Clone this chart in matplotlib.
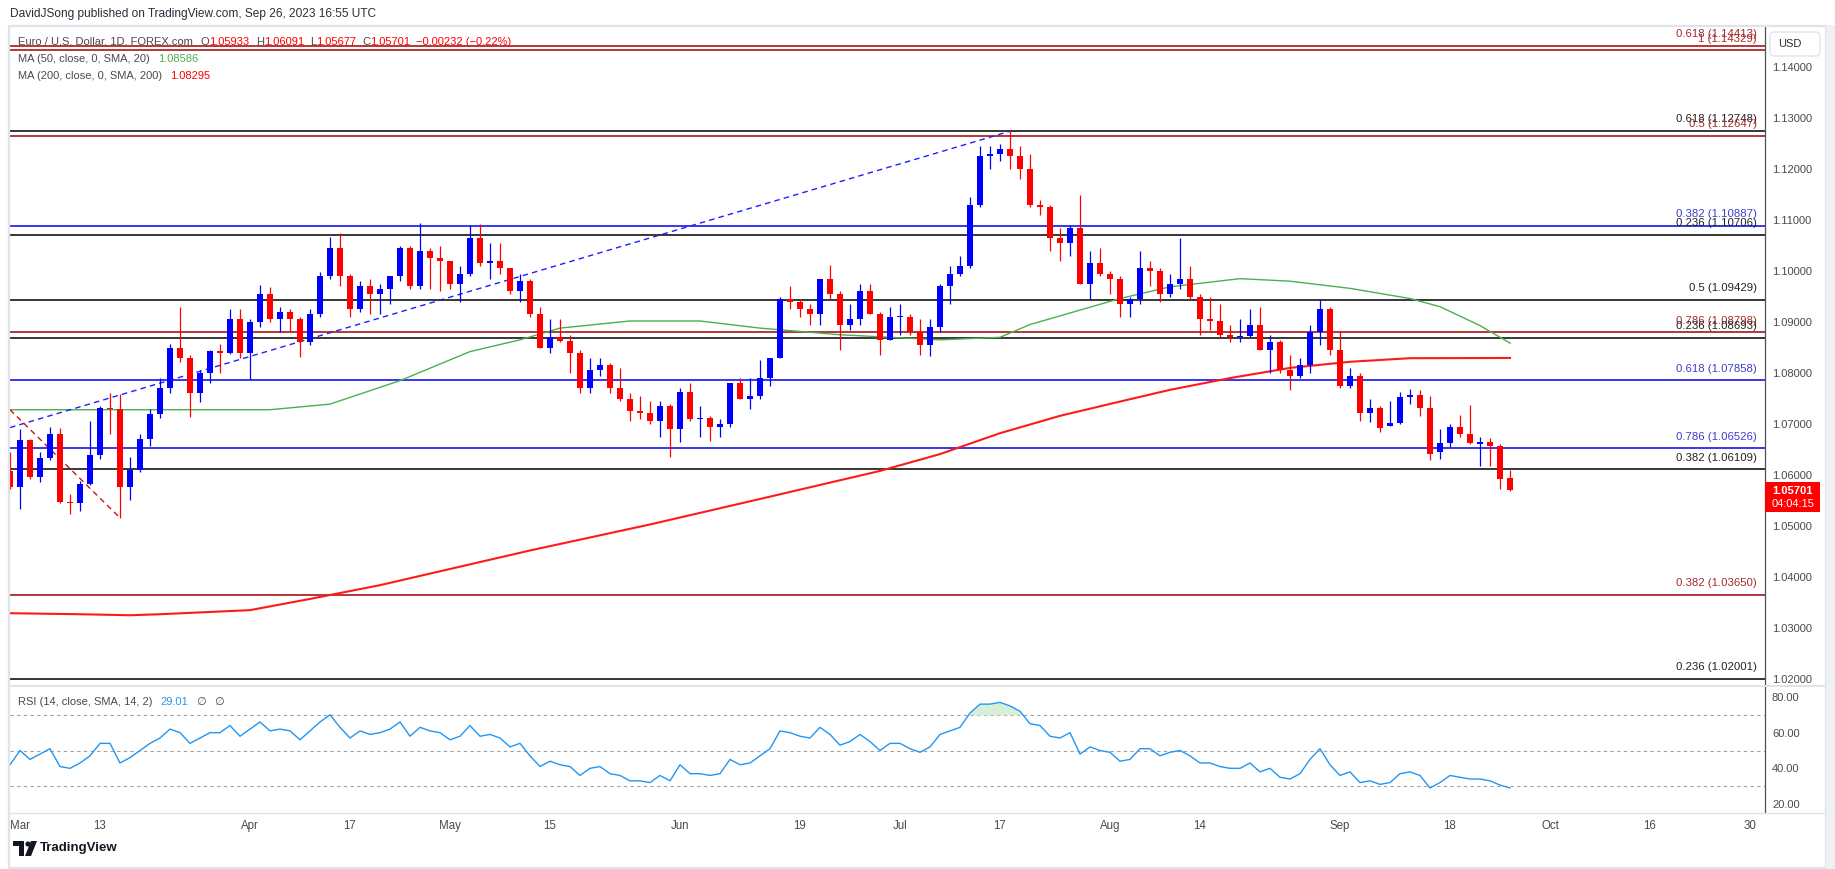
import matplotlib
matplotlib.use( 'Agg' )
import matplotlib.pyplot as plt
from matplotlib.patches import Rectangle , FancyBboxPatch , Polygon , Circle
import numpy as np
import pandas as pd

plt.rcParams['font.family'] = ['Liberation Sans', 'DejaVu Sans']

W , H = 1835 , 869

##  daily bars, Feb 28 .. Sep 26 2023 (weekdays)
dates = pd.bdate_range( '2023-02-28' , '2023-09-26' )

opens = [1.0608,
 1.0576, 1.0668, 1.0597, 1.0634, 1.0681, 1.0548, 1.0545, 1.0582, 1.0640, 1.0731, 1.0730, 1.0577, 1.0610, 1.0670,
 1.0720, 1.0770, 1.0850, 1.0830, 1.0760, 1.0800, 1.0843, 1.0840, 1.0905,
 1.0840, 1.0900, 1.0955, 1.0905, 1.0920, 1.0905, 1.0860, 1.0915, 1.0990, 1.1045, 1.0990, 1.0925, 1.0970, 1.0955,
 1.0965, 1.0990, 1.1045, 1.0970, 1.1040, 1.1025,
 1.1020, 1.0975, 1.0995, 1.1065, 1.1015, 1.1020, 1.1005, 1.0960, 1.0980, 1.0915, 1.0850, 1.0870, 1.0862, 1.0840,
 1.0770, 1.0805, 1.0815, 1.0770, 1.0750, 1.0725, 1.0722, 1.0705, 1.0735,
 1.0690, 1.0762, 1.0710, 1.0712, 1.0695, 1.0700, 1.0780, 1.0750, 1.0755, 1.0790, 1.0830, 1.0945, 1.0940, 1.0925,
 1.0915, 1.0985, 1.0955, 1.0895, 1.0905, 1.0960, 1.0915, 1.0865,
 1.0910, 1.0910, 1.0880, 1.0855, 1.0890, 1.0970, 1.0995, 1.1010, 1.1130, 1.1225, 1.1230, 1.1240, 1.1225, 1.1200,
 1.1130, 1.1125, 1.1065, 1.1055, 1.1085, 1.0975, 1.1015,
 1.0995, 1.0985, 1.0935, 1.0945, 1.1005, 1.1000, 1.0955, 1.0975, 1.0985, 1.0950, 1.0905, 1.0902, 1.0875, 1.0870,
 1.0872, 1.0895, 1.0845, 1.0860, 1.0805, 1.0795, 1.0815, 1.0880, 1.0925,
 1.0845, 1.0775, 1.0795, 1.0722, 1.0731, 1.0697, 1.0701, 1.0752, 1.0757, 1.0732, 1.0645, 1.0662, 1.0694, 1.0680,
 1.0661, 1.0664, 1.0656, 1.05933]

highs = [1.0646,
 1.0691, 1.0671, 1.0645, 1.0694, 1.0693, 1.0563, 1.0588, 1.0705, 1.0736, 1.0760, 1.0759, 1.0635, 1.0680, 1.0730,
 1.0790, 1.0857, 1.0930, 1.0835, 1.0805, 1.0845, 1.0857, 1.0925, 1.0925,
 1.0905, 1.0973, 1.0968, 1.0930, 1.0925, 1.0910, 1.0925, 1.0999, 1.1066, 1.1075, 1.0995, 1.0980, 1.0985, 1.0974,
 1.0990, 1.1050, 1.1050, 1.1095, 1.1045, 1.1050,
 1.1020, 1.1010, 1.1090, 1.1092, 1.1055, 1.1055, 1.1005, 1.0995, 1.0985, 1.0930, 1.0905, 1.0905, 1.0875, 1.0845,
 1.0830, 1.0830, 1.0820, 1.0810, 1.0760, 1.0755, 1.0745, 1.0745, 1.0740,
 1.0770, 1.0780, 1.0735, 1.0715, 1.0710, 1.0780, 1.0790, 1.0790, 1.0825, 1.0830, 1.0950, 1.0970, 1.0945, 1.0935,
 1.0985, 1.1012, 1.0960, 1.0935, 1.0975, 1.0975, 1.0920, 1.0930,
 1.0935, 1.0915, 1.0905, 1.0905, 1.0975, 1.1010, 1.1030, 1.1145, 1.1245, 1.1245, 1.1250, 1.1276, 1.1245, 1.1230,
 1.1140, 1.1130, 1.1085, 1.1090, 1.1150, 1.1040, 1.1045,
 1.1000, 1.0990, 1.0950, 1.1040, 1.1020, 1.1005, 1.0995, 1.1065, 1.1010, 1.0955, 1.0950, 1.0935, 1.0895, 1.0905,
 1.0925, 1.0930, 1.0875, 1.0865, 1.0835, 1.0830, 1.0895, 1.0945, 1.0930,
 1.0882, 1.0810, 1.0800, 1.0750, 1.0735, 1.0746, 1.0762, 1.0769, 1.0766, 1.0755, 1.0690, 1.0700, 1.0718, 1.0737,
 1.0675, 1.0673, 1.0661, 1.06091]

lows = [1.0573,
 1.0533, 1.0592, 1.0586, 1.0630, 1.0545, 1.0524, 1.0530, 1.0580, 1.0632, 1.0680, 1.0516, 1.0551, 1.0606, 1.0656,
 1.0712, 1.0760, 1.0822, 1.0713, 1.0744, 1.0780, 1.0800, 1.0838, 1.0830,
 1.0788, 1.0890, 1.0900, 1.0880, 1.0880, 1.0832, 1.0855, 1.0910, 1.0985, 1.0970, 1.0910, 1.0920, 1.0915, 1.0915,
 1.0935, 1.0980, 1.0965, 1.0965, 1.0965, 1.0960,
 1.0965, 1.0940, 1.0990, 1.1010, 1.0985, 1.0995, 1.0955, 1.0940, 1.0910, 1.0850, 1.0840, 1.0860, 1.0800, 1.0760,
 1.0760, 1.0795, 1.0760, 1.0745, 1.0705, 1.0710, 1.0700, 1.0675, 1.0635,
 1.0665, 1.0705, 1.0675, 1.0667, 1.0675, 1.0695, 1.0750, 1.0730, 1.0750, 1.0775, 1.0830, 1.0925, 1.0910, 1.0895,
 1.0895, 1.0945, 1.0845, 1.0885, 1.0895, 1.0915, 1.0835, 1.0865,
 1.0875, 1.0875, 1.0835, 1.0833, 1.0880, 1.0935, 1.0990, 1.1005, 1.1125, 1.1200, 1.1215, 1.1200, 1.1180, 1.1125,
 1.1110, 1.1040, 1.1020, 1.1030, 1.0975, 1.0945, 1.0990,
 1.0955, 1.0910, 1.0910, 1.0935, 1.0970, 1.0940, 1.0950, 1.0965, 1.0945, 1.0875, 1.0885, 1.0870, 1.0860, 1.0860,
 1.0870, 1.0845, 1.0800, 1.0800, 1.0766, 1.0790, 1.0800, 1.0855, 1.0835,
 1.0771, 1.0770, 1.0705, 1.0703, 1.0685, 1.0697, 1.0700, 1.0740, 1.0716, 1.0630, 1.0632, 1.0655, 1.0675, 1.0660,
 1.0617, 1.0617, 1.0573, 1.05677]

closes = [1.0576,
 1.0668, 1.0597, 1.0634, 1.0681, 1.0548, 1.0545, 1.0582, 1.0640, 1.0731, 1.0730, 1.0577, 1.0610, 1.0670, 1.0720,
 1.0770, 1.0850, 1.0830, 1.0760, 1.0800, 1.0843, 1.0840, 1.0905, 1.0840,
 1.0900, 1.0955, 1.0905, 1.0920, 1.0905, 1.0860, 1.0915, 1.0990, 1.1045, 1.0990, 1.0925, 1.0970, 1.0955, 1.0965,
 1.0990, 1.1045, 1.0970, 1.1040, 1.1025, 1.1020,
 1.0975, 1.0995, 1.1065, 1.1015, 1.1020, 1.1005, 1.0960, 1.0980, 1.0915, 1.0850, 1.0870, 1.0862, 1.0840, 1.0770,
 1.0805, 1.0815, 1.0770, 1.0750, 1.0725, 1.0722, 1.0705, 1.0735, 1.0690,
 1.0762, 1.0710, 1.0712, 1.0695, 1.0700, 1.0780, 1.0750, 1.0755, 1.0790, 1.0830, 1.0945, 1.0940, 1.0925, 1.0915,
 1.0985, 1.0955, 1.0895, 1.0905, 1.0960, 1.0915, 1.0865, 1.0910,
 1.0910, 1.0880, 1.0855, 1.0890, 1.0970, 1.0995, 1.1010, 1.1130, 1.1225, 1.1230, 1.1240, 1.1225, 1.1200, 1.1130,
 1.1125, 1.1065, 1.1055, 1.1085, 1.0975, 1.1015, 1.0995,
 1.0985, 1.0935, 1.0945, 1.1005, 1.1000, 1.0955, 1.0975, 1.0985, 1.0950, 1.0905, 1.0902, 1.0875, 1.0870, 1.0872,
 1.0895, 1.0845, 1.0860, 1.0805, 1.0795, 1.0815, 1.0880, 1.0925, 1.0845,
 1.0775, 1.0795, 1.0722, 1.0731, 1.0692, 1.0701, 1.0752, 1.0757, 1.0732, 1.0642, 1.0662, 1.0694, 1.0680, 1.0663,
 1.0664, 1.0656, 1.0593, 1.05701]

rsi = [42,
 50, 45, 48, 51, 41, 40, 43, 47, 54, 54, 43, 46, 50, 54,
 57, 62, 60, 54, 57, 60, 60, 64, 58,
 62, 66, 61, 62, 61, 56, 61, 66, 70, 63, 57, 61, 59, 60,
 62, 66, 58, 63, 61, 60,
 56, 58, 64, 58, 59, 57, 52, 54, 47, 41, 44, 42, 41, 36,
 40, 41, 37, 36, 33, 33, 32, 36, 33,
 42, 37, 37, 36, 37, 45, 42, 43, 47, 51, 61, 60, 58, 57,
 63, 59, 53, 55, 59, 55, 50, 54,
 54, 51, 49, 52, 59, 61, 63, 71, 76, 76, 77, 75, 72, 65,
 64, 58, 57, 60, 48, 52, 50,
 49, 44, 45, 51, 51, 47, 49, 50, 47, 43, 43, 41, 40, 40,
 43, 38, 40, 35, 34, 37, 45, 51, 42,
 36, 38, 32, 33, 31, 32, 37, 38, 36, 29, 32, 36, 35, 34,
 34, 33, 30.6, 29.01]

##  moving averages
ma50_dates = ['2023-02-28', '2023-04-05', '2023-04-13', '2023-04-24', '2023-05-03', '2023-05-10', '2023-05-16',
              '2023-05-25', '2023-06-05', '2023-06-13', '2023-06-23', '2023-07-07', '2023-07-17', '2023-07-20',
              '2023-08-02', '2023-08-09', '2023-08-18', '2023-08-25', '2023-09-04', '2023-09-12', '2023-09-15',
              '2023-09-21', '2023-09-26']
ma50_vals = [1.0728, 1.0728, 1.0739, 1.0785, 1.0842, 1.0865, 1.0888, 1.0902, 1.0902, 1.0888, 1.0875, 1.0865,
             1.0870, 1.0895, 1.0946, 1.0969, 1.0985, 1.0980, 1.0966, 1.0946, 1.0930, 1.0893, 1.08586]

ma200_dates = ['2023-02-28', '2023-03-09', '2023-03-16', '2023-03-21', '2023-04-03', '2023-04-11', '2023-04-20',
               '2023-05-11', '2023-05-29', '2023-06-13', '2023-06-29', '2023-07-07', '2023-07-17', '2023-07-25',
               '2023-08-02', '2023-08-09', '2023-08-17', '2023-08-25', '2023-09-04', '2023-09-12', '2023-09-26']
ma200_vals = [1.0329, 1.0327, 1.0325, 1.0327, 1.0335, 1.0357, 1.0384, 1.0452, 1.0503, 1.0553, 1.0608, 1.0641,
              1.0682, 1.0716, 1.0744, 1.0767, 1.0790, 1.0810, 1.0822, 1.0829, 1.08295]

##  fibonacci levels
fib_levels = [1.14413, 1.14329, 1.12748, 1.12647, 1.10887, 1.10706, 1.09429, 1.08798, 1.08693,
              1.07858, 1.06526, 1.06109, 1.03650, 1.02001]
fib_ratios = ['0.618', '1', '0.618', '0.5', '0.382', '0.236', '0.5', '0.786', '0.236',
              '0.618', '0.786', '0.382', '0.382', '0.236']
fib_groups = ['r', 'r', 'k', 'r', 'b', 'k', 'k', 'r', 'k', 'b', 'b', 'k', 'r', 'k']

##  trend lines
blue_trend_dates = ['2023-02-28', '2023-07-18']
blue_trend_vals = [1.0693, 1.1274]
red_trend_dates = ['2023-02-28', '2023-03-15']
red_trend_vals = [1.0728, 1.0516]

##  time axis labels
tick_dates = ['2023-03-01', '2023-03-13', '2023-04-03', '2023-04-17', '2023-05-01', '2023-05-15', '2023-06-01',
              '2023-06-19', '2023-07-03', '2023-07-17', '2023-08-01', '2023-08-14', '2023-09-01', '2023-09-18',
              '2023-10-02', '2023-10-16', '2023-10-30']
tick_labels = ['Mar', '13', 'Apr', '17', 'May', '15', 'Jun', '19', 'Jul', '17', 'Aug', '14', 'Sep', '18',
               'Oct', '16', '30']

price_ticks = [1.02, 1.03, 1.04, 1.05, 1.06, 1.07, 1.08, 1.09, 1.10, 1.11, 1.12, 1.13, 1.14]
rsi_ticks = [20, 40, 60, 80]

assert len( opens ) == len( highs ) == len( lows ) == len( closes ) == len( rsi ) == len( dates )


UP = '#0000ff'
DOWN = '#ff0000'
FIB_COL = { 'r': ( '#a10000' , '#a52a2a' ) , 'k': ( '#000000' , '#222222' ) , 'b': ( '#0000ee' , '#3d3dcc' ) }
TXT = '#4a4a4a'
GRID = '#e0e3eb'

all_days = pd.bdate_range( '2023-02-28' , '2023-10-31' )

def pos( d ):
    ##  bar position, Feb 28 sits at -1
    return all_days.get_loc( pd.Timestamp( d ) ) - 1

def px( x0 , y0 , w , h ):
    ##  pixel box (top-left origin) to figure fraction
    return [ x0 / W , 1 - ( y0 + h ) / H , w / W , h / H ]


fig = plt.figure( figsize=( W / 100 , H / 100 ) , dpi=100 )
fig.patch.set_facecolor( 'white' )

ax = fig.add_axes( px( 10 , 27 , 1755 , 658 ) )
ax2 = fig.add_axes( px( 10 , 687 , 1755 , 125 ) )

xs = np.arange( len( dates ) ) - 1
o = np.array( opens ) ; h = np.array( highs ) ; l = np.array( lows ) ; c = np.array( closes )
col = np.where( c >= o , UP , DOWN )

##  candles
ax.vlines( xs , l , h , colors=col , linewidth=0.9 , zorder=3 )
body = np.maximum( np.abs( c - o ) , 0.00012 )
ax.bar( xs , body , bottom=np.minimum( o , c ) , width=0.64 , color=col , linewidth=0 , zorder=4 )

##  moving averages
ax.plot( [ pos( d ) for d in ma50_dates ] , ma50_vals , color='#4caf50' , lw=1.0 , zorder=2 )
ax.plot( [ pos( d ) for d in ma200_dates ] , ma200_vals , color='#ff1a1a' , lw=1.5 , zorder=2 )

##  trend lines
ax.plot( [ pos( d ) for d in blue_trend_dates ] , blue_trend_vals , color='#1f1fff' , lw=1.0 ,
         dashes=( 4 , 3 ) , zorder=2 )
ax.plot( [ pos( d ) for d in red_trend_dates ] , red_trend_vals , color='#d01010' , lw=1.0 ,
         dashes=( 4 , 3 ) , zorder=2 )

##  fibonacci lines and labels
for lev , rat , g in zip( fib_levels , fib_ratios , fib_groups ):
    lc , tc = FIB_COL[g]
    ax.axhline( lev , color=lc , lw=1.1 , zorder=1 )
    ax.annotate( '%s (%.5f)' % ( rat , lev ) , xy=( 173.7 , lev ) , xytext=( 0 , 8.4 ) ,
                 textcoords='offset points' , ha='right' , va='center' , fontsize=8.2 , color=tc ,
                 annotation_clip=False , zorder=5 )

ax.set_xlim( -1 , 174.5 )
ax.set_ylim( 1.02 - 6 / 5100 , 1.02 + 652 / 5100 )
ax.yaxis.tick_right()
ax.set_yticks( price_ticks )
ax.set_yticklabels( [ '%.5f' % t for t in price_ticks ] )
ax.tick_params( axis='y' , length=0 , pad=5 , labelsize=8 , labelcolor=TXT )
ax.set_xticks( [] )
for s in [ 'top' , 'left' , 'bottom' ]:
    ax.spines[s].set_visible( False )
ax.spines['right'].set_color( '#505050' )
ax.spines['right'].set_linewidth( 0.9 )

##  RSI pane
r = np.array( rsi , dtype=float )
for lvl in [ 70 , 50 , 30 ]:
    ax2.axhline( lvl , color='#a0a0a0' , lw=0.8 , dashes=( 3 , 3 ) , zorder=1 )
ax2.fill_between( xs , 70 , r , where=r > 70 , interpolate=True , color='#d6efd8' , lw=0 , zorder=2 )
ax2.plot( xs , r , color='#2196f3' , lw=1.0 , zorder=3 )
ax2.set_xlim( -1 , 174.5 )
ax2.set_ylim( 20 - 8 / 1.783 , 80 + 10 / 1.783 )
ax2.yaxis.tick_right()
ax2.set_yticks( rsi_ticks )
ax2.set_yticklabels( [ '%.2f' % t for t in rsi_ticks ] )
ax2.tick_params( axis='y' , length=0 , pad=5 , labelsize=8 , labelcolor=TXT )
ax2.set_xticks( [ pos( d ) for d in tick_dates ] )
ax2.set_xticklabels( tick_labels )
ax2.tick_params( axis='x' , length=0 , pad=6 , labelsize=8.3 , labelcolor=TXT )
for s in [ 'top' , 'left' , 'bottom' ]:
    ax2.spines[s].set_visible( False )
ax2.spines['right'].set_color( '#505050' )
ax2.spines['right'].set_linewidth( 0.9 )

##  overlay in pixel coordinates: frame, legends, badges, logo
ov = fig.add_axes( [ 0 , 0 , 1 , 1 ] )
ov.set_xlim( 0 , W )
ov.set_ylim( H , 0 )
ov.axis( 'off' )
ov.patch.set_alpha( 0 )

ov.add_patch( Rectangle( ( 8.5 , 25.5 ) , 1817 , 842 , fill=False , ec=GRID , lw=1.6 ) )
ov.add_patch( Rectangle( ( 1826 , 25 ) , 9 , 844 , fc='#eef0f4' , ec='none' ) )
ov.plot( [ 10 , 1825 ] , [ 686 , 686 ] , color=GRID , lw=1.4 )
ov.plot( [ 10 , 1825 ] , [ 813 , 813 ] , color=GRID , lw=1.0 )

ov.text( 10 , 14 , 'DavidJSong published on TradingView.com, Sep 26, 2023 16:55 UTC' ,
         fontsize=8.6 , color='#2a2e39' , va='center' )

rend = fig.canvas.get_renderer()

def pieces( x , y , parts , size=8.0 ):
    for txt , colr , gap in parts:
        t = ov.text( x , y , txt , fontsize=size , color=colr , va='center' , ha='left' )
        x += t.get_window_extent( renderer=rend ).width + gap

pieces( 18 , 42 , [ ( 'Euro / U.S. Dollar, 1D, FOREX.com' , TXT , 8 ) ,
                    ( 'O' , TXT , 0 ) , ( '1.05933' , DOWN , 6 ) ,
                    ( 'H' , TXT , 0 ) , ( '1.06091' , DOWN , 6 ) ,
                    ( 'L' , TXT , 0 ) , ( '1.05677' , DOWN , 6 ) ,
                    ( 'C' , TXT , 0 ) , ( '1.05701' , DOWN , 6 ) ,
                    ( '\u22120.00232 (\u22120.22%)' , DOWN , 0 ) ] )
pieces( 18 , 59 , [ ( 'MA (50, close, 0, SMA, 20)' , TXT , 8 ) , ( '1.08586' , '#4caf50' , 0 ) ] )
pieces( 18 , 76 , [ ( 'MA (200, close, 0, SMA, 200)' , TXT , 8 ) , ( '1.08295' , DOWN , 0 ) ] )
pieces( 18 , 702 , [ ( 'RSI (14, close, SMA, 14, 2)' , TXT , 8 ) , ( '29.01' , '#2196f3' , 8 ) ,
                     ( '\u2205' , TXT , 8 ) , ( '\u2205' , TXT , 0 ) ] )

##  USD badge and last price tag
ov.add_patch( FancyBboxPatch( ( 1770 , 32 ) , 50 , 24 , boxstyle='round,pad=0,rounding_size=4' ,
                              fc='white' , ec='#e0e3eb' , lw=1.0 ) )
ov.text( 1778 , 44 , 'USD' , fontsize=8 , color='#2a2e39' , va='center' , ha='left' )
ov.add_patch( Rectangle( ( 1765 , 482 ) , 55 , 30 , fc='#ff0000' , ec='none' ) )
ov.text( 1772 , 491 , '1.05701' , fontsize=8 , color='white' , va='center' , ha='left' , weight='bold' )
ov.text( 1772 , 504 , '04:04:15' , fontsize=8 , color='white' , va='center' , ha='left' )

##  TradingView logo
ov.add_patch( Polygon( [ ( 13 , 841 ) , ( 24 , 841 ) , ( 24 , 856 ) , ( 19 , 856 ) , ( 19 , 846 ) , ( 13 , 846 ) ] ,
                       closed=True , fc='#131722' , ec='none' ) )
ov.add_patch( Circle( ( 28 , 844 ) , 2.6 , fc='#131722' , ec='none' ) )
ov.add_patch( Polygon( [ ( 31 , 841 ) , ( 37 , 841 ) , ( 31 , 856 ) , ( 25 , 856 ) ] ,
                       closed=True , fc='#131722' , ec='none' ) )
ov.text( 40 , 848.5 , 'TradingView' , fontsize=9.5 , color='#131722' , va='center' , ha='left' , weight='bold' )

fig.savefig( 'out.png' , dpi=100 )
